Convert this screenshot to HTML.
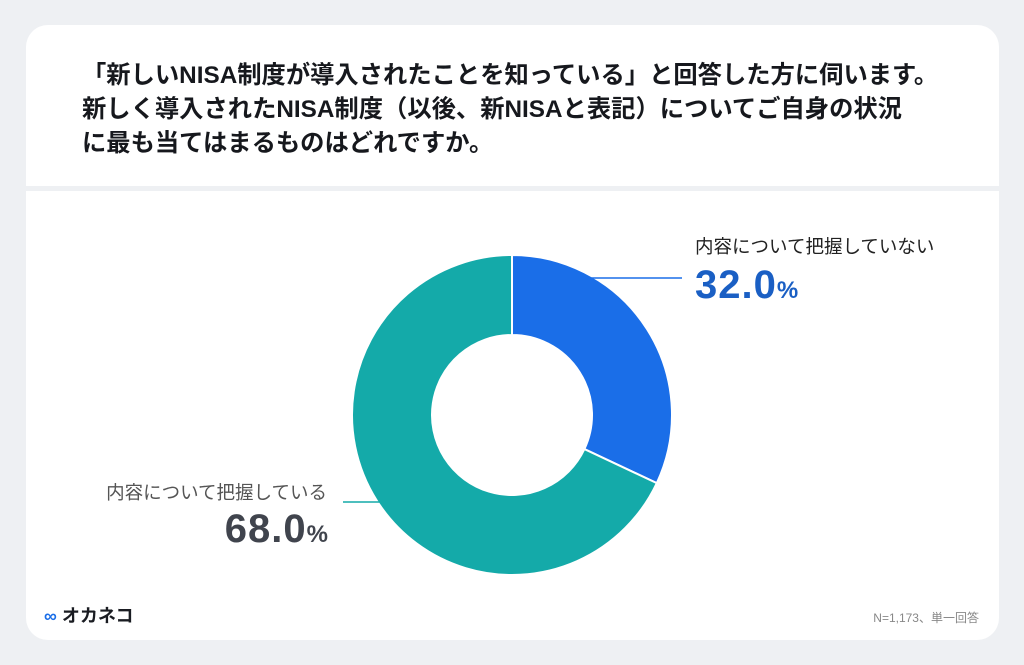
<!DOCTYPE html>
<html><head><meta charset="utf-8"><style>
html,body{margin:0;padding:0;}
body{width:1024px;height:665px;background:#eef0f3;position:relative;overflow:hidden;font-family:"Liberation Sans","Noto Sans CJK JP",sans-serif;}
.card{position:absolute;left:26px;top:25px;width:973px;height:615px;background:#fff;border-radius:22px;overflow:hidden;}
.sep{position:absolute;left:0;top:161px;width:100%;height:5px;background:#eef0f3;}
.title{position:absolute;left:56px;top:34px;font-size:24.3px;font-weight:bold;line-height:34px;color:#16181d;letter-spacing:0;white-space:nowrap;}
.lbl{position:absolute;font-size:18.5px;color:#222;white-space:nowrap;}
.num{position:absolute;font-size:40px;font-weight:bold;white-space:nowrap;letter-spacing:1px;}
.num small{font-size:24px;}
.logo{position:absolute;left:18px;top:577px;font-size:18px;font-weight:bold;color:#1a1c22;}
.note{position:absolute;right:20px;top:584px;font-size:12px;color:#888;}
</style></head><body>
<div class="card">
<div class="title">「新しいNISA制度が導入されたことを知っている」と回答した方に伺います。<br>新しく導入されたNISA制度（以後、新NISAと表記）についてご自身の状況<br>に最も当てはまるものはどれですか。</div>
<div class="sep"></div>
<div class="logo"><span style="color:#1a6ee8">∞</span> オカネコ</div>
<div class="note">N=1,173、単一回答</div>
</div>
<svg id="chart" width="1024" height="665" style="position:absolute;left:0;top:0"></svg>
<div class="lbl" style="left:695px;top:233px;">内容について把握していない</div>
<div class="num" style="left:695px;top:263px;color:#1a5fc4;">32.0<small>%</small></div>
<div class="lbl" style="right:697px;top:479px;color:#555;">内容について把握している</div>
<div class="num" style="right:695px;top:507px;color:#40444d;">68.0<small>%</small></div>
<script>
const categories=["内容について把握していない","内容について把握している"];
const values=[32.0,68.0];
const colors=["#1a6ee8","#14aaa9"];
const svg=document.getElementById('chart');
const NS="http://www.w3.org/2000/svg";
const cx=512,cy=415,R=160,r=80;
const total=values.reduce((a,b)=>a+b,0);
function pt(a,rad){return [cx+rad*Math.sin(a),cy-rad*Math.cos(a)];}
let a0=0;
values.forEach((v,i)=>{
  const a1=a0+v/total*2*Math.PI;
  const large=(a1-a0)>Math.PI?1:0;
  const [x0,y0]=pt(a0,R),[x1,y1]=pt(a1,R),[x2,y2]=pt(a1,r),[x3,y3]=pt(a0,r);
  const p=document.createElementNS(NS,'path');
  p.setAttribute('d',`M${x0},${y0}A${R},${R} 0 ${large} 1 ${x1},${y1}L${x2},${y2}A${r},${r} 0 ${large} 0 ${x3},${y3}Z`);
  p.setAttribute('fill',colors[i]);
  p.setAttribute('stroke','#fff');p.setAttribute('stroke-width','2');
  
  
  svg.appendChild(p);
  a0=a1;
});
function line(x1,y1,x2,y2,c,n){const l=document.createElementNS(NS,'line');
l.setAttribute('x1',x1);l.setAttribute('y1',y1);l.setAttribute('x2',x2);l.setAttribute('y2',y2);
l.setAttribute('stroke',c);l.setAttribute('stroke-width','1.5');


svg.appendChild(l);}
line(590,278,682,278,'#1a6ee8','leader-line-not-understood');
line(343,502,380,502,'#14aaa9','leader-line-understood');
</script>
</body></html>
